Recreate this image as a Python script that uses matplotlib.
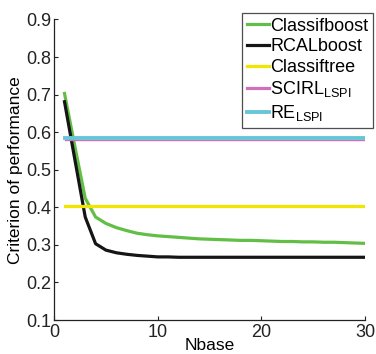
import numpy as np
import matplotlib.pyplot as plt

plt.rcParams['font.family'] = ['Liberation Sans', 'DejaVu Sans']

nbase = list(range(1, 31))
classifboost = [0.703, 0.562, 0.424, 0.374, 0.357, 0.346, 0.338, 0.331, 0.327, 0.324,
                0.322, 0.320, 0.318, 0.316, 0.315, 0.314, 0.313, 0.312, 0.312, 0.311,
                0.310, 0.309, 0.309, 0.308, 0.308, 0.307, 0.307, 0.306, 0.305, 0.304]
rcalboost = [0.681, 0.527, 0.374, 0.303, 0.286, 0.279, 0.275, 0.272, 0.270, 0.268,
             0.268, 0.267, 0.267, 0.267, 0.267, 0.267, 0.267, 0.267, 0.267, 0.267,
             0.267, 0.267, 0.267, 0.267, 0.267, 0.267, 0.267, 0.267, 0.267, 0.267]
classiftree = 0.404
scirl_lspi = 0.579
re_lspi = 0.584

fig = plt.figure(figsize=(3.76, 3.54), dpi=100)
ax = fig.add_axes([0.144, 0.096, 0.827, 0.849])

ax.plot(nbase, classifboost, color='#62be45', lw=2.3, label='Classifboost')
ax.plot(nbase, rcalboost, color='#151515', lw=2.3, label='RCALboost')
ax.plot([nbase[0], nbase[-1]], [classiftree] * 2, color='#f2e600', lw=2.3, label='Classiftree')
ax.plot([nbase[0], nbase[-1]], [scirl_lspi] * 2, color='#d070bd', lw=1.0,
        label=r'SCIRL$_{\mathregular{LSPI}}$')
ax.plot([nbase[0], nbase[-1]], [re_lspi] * 2, color='#66c6d8', lw=2.8,
        label=r'RE$_{\mathregular{LSPI}}$')

ax.set_xlim(0, 30)
ax.set_ylim(0.1, 0.9)
ax.set_xticks([0, 10, 20, 30])
ax.set_yticks(np.arange(1, 10) / 10)
ax.set_yticklabels(['0.%d' % i for i in range(1, 10)])
ax.tick_params(direction='in', labelsize=13, length=3, width=0.8, colors='#222222')
ax.tick_params(axis='y', pad=2)
ax.tick_params(axis='x', pad=3)
for s in ['top', 'right']:
    ax.spines[s].set_visible(False)
for s in ['left', 'bottom']:
    ax.spines[s].set_color('#222222')
    ax.spines[s].set_linewidth(0.9)

ax.set_xlabel('Nbase', fontsize=12.5, labelpad=-2)
ax.set_ylabel('Criterion of performance', fontsize=12.5, labelpad=2)

leg = ax.legend(loc='upper right', bbox_to_anchor=(0.992, 0.963), bbox_transform=fig.transFigure,
                fontsize=13, frameon=True, fancybox=False, handlelength=1.2,
                handletextpad=0.1, borderpad=0.25, labelspacing=0.2, borderaxespad=0)
leg.get_frame().set_edgecolor('#222222')
leg.get_frame().set_linewidth(0.9)
leg.get_lines()[3].set_linewidth(2.3)

fig.savefig('out.png', dpi=100)
